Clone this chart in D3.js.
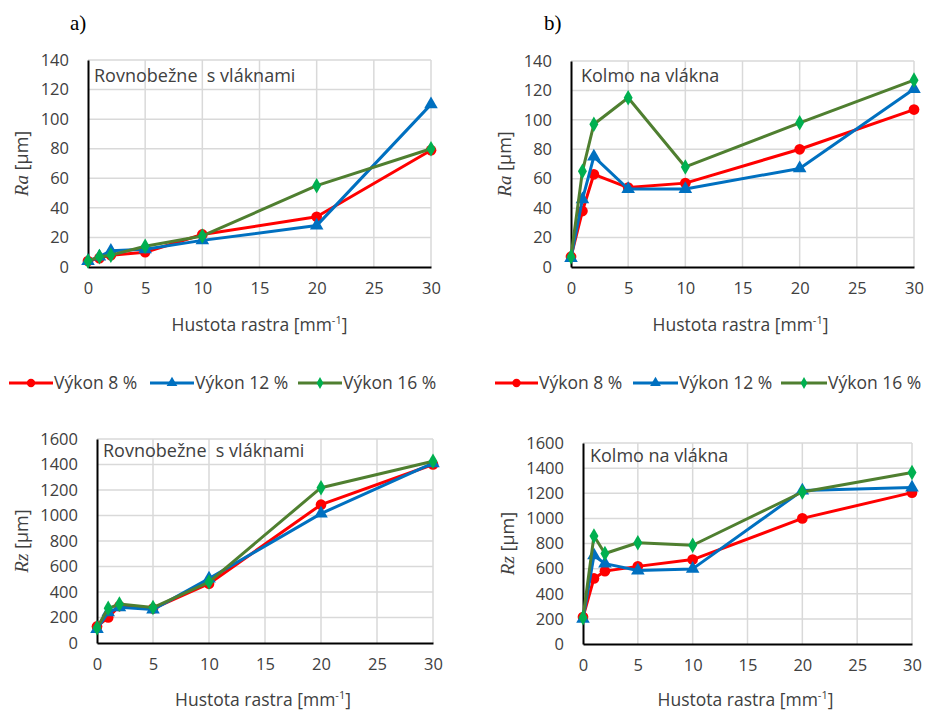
<!DOCTYPE html>
<html>
<head>
<meta charset="utf-8">
<script src="https://cdn.jsdelivr.net/npm/d3@7"></script>
<style>
  html, body { margin: 0; padding: 0; background: #fff; }
  svg { display: block; }
</style>
</head>
<body>
<svg id="chart" width="925" height="710"></svg>
<script>
// Raster density (x values shared by all series)
const density = [0, 1, 2, 5, 10, 20, 30];
const xTicks = [0, 5, 10, 15, 20, 25, 30];
const seriesNames = ["Výkon 8 %", "Výkon 12 %", "Výkon 16 %"];

// Ra, parallel to the fibres
const raParallel8 = [4, 6, 8, 10, 22, 34, 79];
const raParallel12 = [4, 7, 11, 12, 18, 28, 110];
const raParallel16 = [4, 7, 8, 14, 21, 55, 80];

// Ra, perpendicular to the fibres
const raPerp8 = [7, 38, 63, 54, 57, 80, 107];
const raPerp12 = [6, 46, 75, 53, 53, 67, 121];
const raPerp16 = [7, 65, 97, 115, 68, 98, 127];

// Rz, parallel to the fibres
const rzParallel8 = [130, 200, 290, 270, 465, 1085, 1400];
const rzParallel12 = [110, 240, 280, 262, 505, 1015, 1410];
const rzParallel16 = [120, 272, 305, 278, 478, 1218, 1425];

// Rz, perpendicular to the fibres
const rzPerp8 = [215, 522, 580, 618, 672, 1000, 1205];
const rzPerp12 = [200, 705, 640, 585, 598, 1222, 1245];
const rzPerp16 = [210, 860, 720, 806, 786, 1210, 1365];

const raTicks = [0, 20, 40, 60, 80, 100, 120, 140];
const rzTicks = [0, 200, 400, 600, 800, 1000, 1200, 1400, 1600];

const SANS = "'Open Sans', Lato, sans-serif";
const SERIF = "'Liberation Serif', 'DejaVu Serif', serif";
const INK = "#404040";

const styles = [
  { line: "#ff0000", fill: "#ff0000", shape: d3.symbolCircle, size: 90, legendSize: 55 },
  { line: "#0070c0", fill: "#0070c0", shape: d3.symbolTriangle, size: 80, legendSize: 50 },
  { line: "#4f7f30", fill: "#00b050", shape: d3.symbolDiamond, size: 70, legendSize: 40 }
];

const svg = d3.select("#chart");

function sansText(sel, size) {
  return sel.style("font-family", SANS).attr("font-size", size).attr("fill", INK);
}

function panel(cfg) {
  const x = d3.scaleLinear().domain([0, 30]).range([cfg.x0, cfg.x1]);
  const y = d3.scaleLinear().domain([0, cfg.yMax]).range([cfg.yBot, cfg.yTop]);
  const g = svg.append("g");

  // gridlines
  g.append("g").selectAll("line").data(cfg.yTicks.filter(v => v > 0)).join("line")
    .attr("x1", cfg.x0).attr("x2", cfg.x1)
    .attr("y1", d => y(d)).attr("y2", d => y(d))
    .attr("stroke", "#d9d9d9").attr("stroke-width", 1.5);
  g.append("g").selectAll("line").data(xTicks.filter(v => v > 0)).join("line")
    .attr("x1", d => x(d)).attr("x2", d => x(d))
    .attr("y1", cfg.yTop).attr("y2", cfg.yBot)
    .attr("stroke", "#d9d9d9").attr("stroke-width", 1.5);

  // axes
  const xa = g.append("g").attr("transform", `translate(0,${cfg.yBot})`)
    .call(d3.axisBottom(x).tickValues(xTicks).tickFormat(d3.format("d")).tickSize(0).tickPadding(15));
  const ya = g.append("g").attr("transform", `translate(${cfg.x0},0)`)
    .call(d3.axisLeft(y).tickValues(cfg.yTicks).tickFormat(d3.format("d")).tickSize(0).tickPadding(19));
  [xa, ya].forEach(a => {
    a.select(".domain").attr("stroke", "#000").attr("stroke-width", 2);
    sansText(a.selectAll("text"), 16.5);
  });

  // panel caption
  sansText(g.append("text"), 18).attr("x", cfg.capX).attr("y", cfg.capY)
    .style("white-space", "pre").text(cfg.caption);

  // axis titles
  const xt = sansText(g.append("text"), 17.5)
    .attr("x", (cfg.x0 + cfg.x1) / 2 + cfg.xtDx).attr("y", cfg.xtY)
    .attr("text-anchor", "middle");
  xt.append("tspan").text("Hustota rastra [mm");
  xt.append("tspan").attr("font-size", 11).attr("dy", -7).text("-1");
  xt.append("tspan").attr("dy", 7).text("]");

  const yt = sansText(g.append("text"), 18)
    .attr("transform", `translate(${cfg.ytX},${(cfg.yTop + cfg.yBot) / 2}) rotate(-90)`)
    .attr("text-anchor", "middle");
  yt.append("tspan").style("font-family", SERIF).attr("font-size", 19)
    .attr("font-style", "italic").text(cfg.yName);
  yt.append("tspan").text(" [μm]");

  // series
  const line = d3.line().x((d, i) => x(density[i])).y(d => y(d));
  cfg.series.forEach((vals, si) => {
    const st = styles[si];
    g.append("path").datum(vals).attr("d", line)
      .attr("fill", "none").attr("stroke", st.line).attr("stroke-width", 3)
      .attr("stroke-linejoin", "round");
    g.append("g").selectAll("path").data(vals).join("path")
      .attr("d", d3.symbol(st.shape, st.size))
      .attr("transform", (d, i) => `translate(${x(density[i])},${y(d)})`)
      .attr("fill", st.fill);
  });
}

function legend(items) {
  items.forEach((it, si) => {
    const st = styles[si];
    const g = svg.append("g");
    g.append("line").attr("x1", it.x1).attr("x2", it.x2).attr("y1", it.y).attr("y2", it.y)
      .attr("stroke", st.line).attr("stroke-width", 3);
    g.append("path").attr("d", d3.symbol(st.shape, st.legendSize))
      .attr("transform", `translate(${(it.x1 + it.x2) / 2},${it.y})`).attr("fill", st.fill);
    sansText(g.append("text"), 17.5).attr("x", it.x2 + 1).attr("y", it.y + 6)
      .text(seriesNames[si]);
  });
}

// panel letters
svg.append("text").attr("x", 70).attr("y", 30).attr("font-size", 21)
  .style("font-family", SERIF).attr("fill", "#000").text("a)");
svg.append("text").attr("x", 544).attr("y", 30).attr("font-size", 21)
  .style("font-family", SERIF).attr("fill", "#000").text("b)");

panel({ x0: 88, x1: 431, yTop: 60, yBot: 267, yMax: 140, yTicks: raTicks, yName: "Ra",
  caption: "Rovnobežne  s vláknami", capX: 94, capY: 82, xtY: 331, xtDx: 0, ytX: 28,
  series: [raParallel8, raParallel12, raParallel16] });
panel({ x0: 571, x1: 914, yTop: 61, yBot: 267, yMax: 140, yTicks: raTicks, yName: "Ra",
  caption: "Kolmo na vlákna", capX: 581, capY: 82, xtY: 331, xtDx: -2, ytX: 511,
  series: [raPerp8, raPerp12, raPerp16] });
panel({ x0: 97, x1: 433, yTop: 439, yBot: 643, yMax: 1600, yTicks: rzTicks, yName: "Rz",
  caption: "Rovnobežne  s vláknami", capX: 103, capY: 457, xtY: 706, xtDx: -2, ytX: 28,
  series: [rzParallel8, rzParallel12, rzParallel16] });
panel({ x0: 583, x1: 912, yTop: 443, yBot: 644, yMax: 1600, yTicks: rzTicks, yName: "Rz",
  caption: "Kolmo na vlákna", capX: 590, capY: 462, xtY: 706, xtDx: -2, ytX: 514,
  series: [rzPerp8, rzPerp12, rzPerp16] });

legend([
  { x1: 9, x2: 53, y: 383 }, { x1: 150, x2: 194, y: 383 }, { x1: 298, x2: 342, y: 383 }
]);
legend([
  { x1: 495, x2: 538, y: 383 }, { x1: 633, x2: 678, y: 383 }, { x1: 781, x2: 827, y: 383 }
]);
</script>
</body>
</html>
